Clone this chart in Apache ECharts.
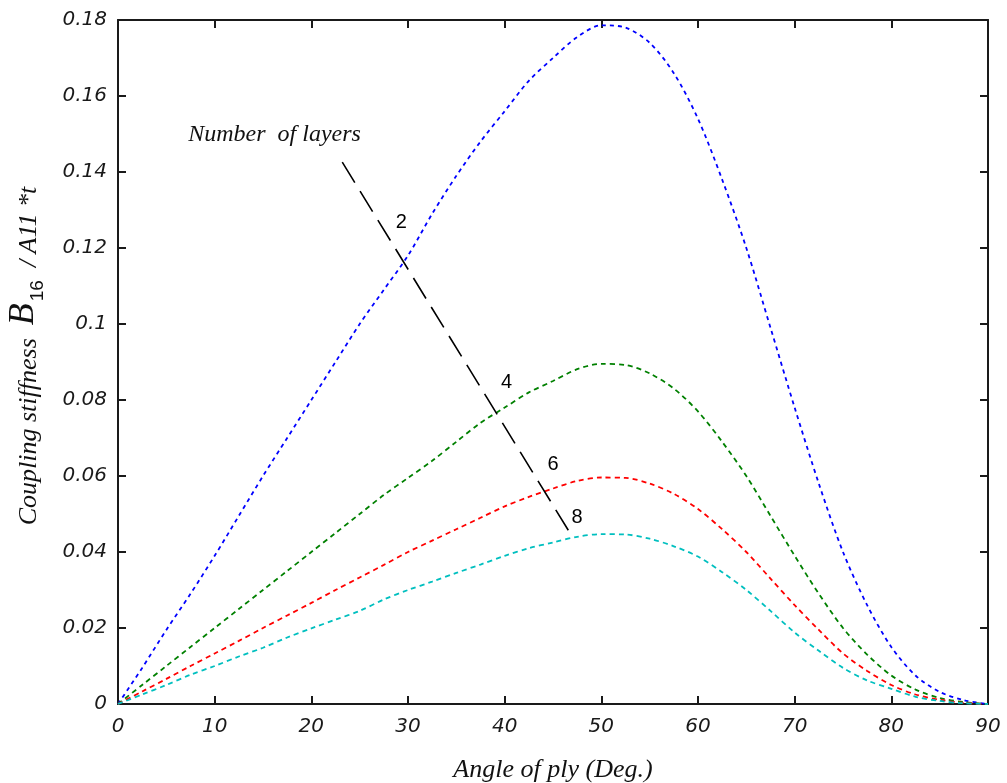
<!DOCTYPE html>
<html>
<head>
<meta charset="utf-8">
<script src="https://cdn.jsdelivr.net/npm/echarts@6/dist/echarts.min.js"></script>
<style>
  html, body { margin: 0; padding: 0; background: #fff; }
  #chart { width: 1007px; height: 783px; }
</style>
</head>
<body>
<div id="chart"></div>
<script>
// Ply angle (degrees) at which each curve is sampled
const angles = [0, 2.5, 5, 7.5, 10, 12.5, 15, 17.5, 20, 22.5, 25, 27.5, 30, 32.5, 35, 37.5,
  40, 42.5, 45, 47.5, 50, 52.5, 55, 57.5, 60, 62.5, 65, 67.5, 70, 72.5, 75, 77.5, 80, 82.5, 85, 87.5, 90];

// Normalised coupling stiffness B16 / (A11 * t) for 2, 4, 6 and 8 layers
const layers2 = [0, 0.0095, 0.0195, 0.029, 0.039, 0.0495, 0.060, 0.070, 0.080, 0.090, 0.100, 0.109,
  0.118, 0.129, 0.139, 0.148, 0.156, 0.164, 0.170, 0.1755, 0.1786, 0.178, 0.174, 0.166, 0.154, 0.138,
  0.120, 0.099, 0.078, 0.058, 0.040, 0.026, 0.015, 0.0075, 0.0032, 0.001, 0];
const layers4 = [0, 0.005, 0.010, 0.015, 0.020, 0.025, 0.030, 0.035, 0.040, 0.045, 0.050, 0.055,
  0.0595, 0.064, 0.069, 0.074, 0.078, 0.082, 0.085, 0.0881, 0.0895, 0.0892, 0.087, 0.083, 0.077, 0.069,
  0.060, 0.0495, 0.039, 0.029, 0.020, 0.013, 0.0075, 0.0038, 0.0016, 0.0005, 0];
const layers6 = [0, 0.0033, 0.0066, 0.010, 0.0133, 0.0166, 0.020, 0.0233, 0.0266, 0.030, 0.0333, 0.0366,
  0.040, 0.043, 0.046, 0.049, 0.052, 0.0545, 0.0567, 0.0587, 0.0596, 0.0595, 0.058, 0.0553, 0.0513, 0.046,
  0.040, 0.033, 0.026, 0.0195, 0.0133, 0.0087, 0.005, 0.0025, 0.0011, 0.0003, 0];
const layers8 = [0, 0.0025, 0.005, 0.0077, 0.0100, 0.0125, 0.0148, 0.0175, 0.0199, 0.0222, 0.0245, 0.0275,
  0.030, 0.0322, 0.0345, 0.0367, 0.039, 0.041, 0.0425, 0.0440, 0.0447, 0.0446, 0.0435, 0.0415, 0.0388, 0.0347,
  0.0300, 0.0245, 0.0188, 0.014, 0.0095, 0.0062, 0.0040, 0.0019, 0.0008, 0.0002, 0];

// Tick labels
const xTickLabels = ['0', '10', '20', '30', '40', '50', '60', '70', '80', '90'];
const yTickLabels = ['0', '0.02', '0.04', '0.06', '0.08', '0.1', '0.12', '0.14', '0.16', '0.18'];

// Leader line crossing the curves, with its caption and the layer-count tags
const leaderLine = [[23.2, 0.1426], [47.0, 0.0440]];
const captionPoint = [[16.2, 0.1497]];
const captionText = ['Number  of layers'];
const tagPoints = [[29.3, 0.1266], [40.2, 0.0845], [45.0, 0.0629], [47.5, 0.0492]];
const tagText = ['2', '4', '6', '8'];

const pairs = ys => angles.map((a, i) => [a, ys[i]]);

const curveColors = ['#0000ff', '#008000', '#ff0000', '#00bfbf'];
const curveDash = [[4, 4], [5, 4], [5, 4], [5, 4]];
const curves = [layers2, layers4, layers6, layers8];

const axisColor = '#1a1a1a';
const tickFont = { fontFamily: 'DejaVu Sans', fontStyle: 'italic', fontSize: 20, color: '#1a1a1a' };

const chart = echarts.init(document.getElementById('chart'), null, { renderer: 'canvas' });

const baseX = {
  type: 'value', min: 0, max: 90, interval: 10,
  axisLine: { show: true, onZero: false, lineStyle: { color: axisColor, width: 2 } },
  axisTick: { show: true, inside: true, length: 8, lineStyle: { color: axisColor, width: 2 } },
  splitLine: { show: false }
};
const baseY = {
  type: 'value', min: 0, max: 0.18, interval: 0.02,
  axisLine: { show: true, onZero: false, lineStyle: { color: axisColor, width: 2 } },
  axisTick: { show: true, inside: true, length: 8, lineStyle: { color: axisColor, width: 2 } },
  splitLine: { show: false }
};

const series = curves.map((ys, k) => ({
  type: 'line',
  data: pairs(ys),
  smooth: 0.3,
  showSymbol: false,
  symbol: 'none',
  lineStyle: { color: curveColors[k], width: 1.8, type: curveDash[k] },
  z: 3
}));

series.push({
  type: 'line',
  data: leaderLine,
  showSymbol: false,
  symbol: 'none',
  lineStyle: { color: '#000', width: 1.6, type: [24, 10] },
  z: 4
});

series.push({
  type: 'scatter',
  data: captionPoint,
  symbolSize: 0,
  itemStyle: { opacity: 1 },
  label: {
    show: true, position: 'inside',
    formatter: p => captionText[p.dataIndex],
    fontFamily: 'Liberation Serif', fontStyle: 'italic', fontSize: 24, color: '#111'
  },
  z: 5
});

series.push({
  type: 'scatter',
  data: tagPoints,
  symbolSize: 0,
  itemStyle: { opacity: 1 },
  label: {
    show: true, position: 'inside',
    formatter: p => tagText[p.dataIndex],
    fontFamily: 'Liberation Sans', fontSize: 20, color: '#000'
  },
  z: 5
});

chart.setOption({
  animation: false,
  backgroundColor: '#fff',
  grid: { left: 118, right: 19, top: 20, bottom: 79, outerBoundsMode: 'none', containLabel: false },
  xAxis: [
    Object.assign({}, baseX, {
      position: 'bottom',
      axisLabel: Object.assign({ margin: 13, formatter: v => xTickLabels[Math.round(v / 10)] }, tickFont),
      name: 'Angle of ply (Deg.)',
      nameLocation: 'middle',
      nameGap: 53,
      nameTextStyle: { fontFamily: 'Liberation Serif', fontStyle: 'italic', fontSize: 26, color: '#111' }
    }),
    Object.assign({}, baseX, { position: 'top', axisLabel: { show: false } })
  ],
  yAxis: [
    Object.assign({}, baseY, {
      position: 'left',
      axisLabel: Object.assign({ margin: 11, formatter: v => yTickLabels[Math.round(v / 0.02)] }, tickFont),
      name: '{a|Coupling stiffness  }{b|B}{s|16}{a|  / A11 *t}',
      nameLocation: 'middle',
      nameRotate: 90,
      nameGap: 76,
      nameTextStyle: {
        padding: [0, 0, 0, 12],
        rich: {
          a: { fontFamily: 'Liberation Serif', fontStyle: 'italic', fontSize: 26, color: '#111', lineHeight: 34, verticalAlign: 'bottom' },
          b: { fontFamily: 'Liberation Serif', fontStyle: 'italic', fontSize: 36, color: '#111', lineHeight: 34, verticalAlign: 'bottom' },
          s: { fontFamily: 'Liberation Sans', fontSize: 19, color: '#111', lineHeight: 34, verticalAlign: 'bottom', padding: [0, 0, -5, 2] }
        }
      }
    }),
    Object.assign({}, baseY, { position: 'right', axisLabel: { show: false } })
  ],
  series: series
});
</script>
</body>
</html>
